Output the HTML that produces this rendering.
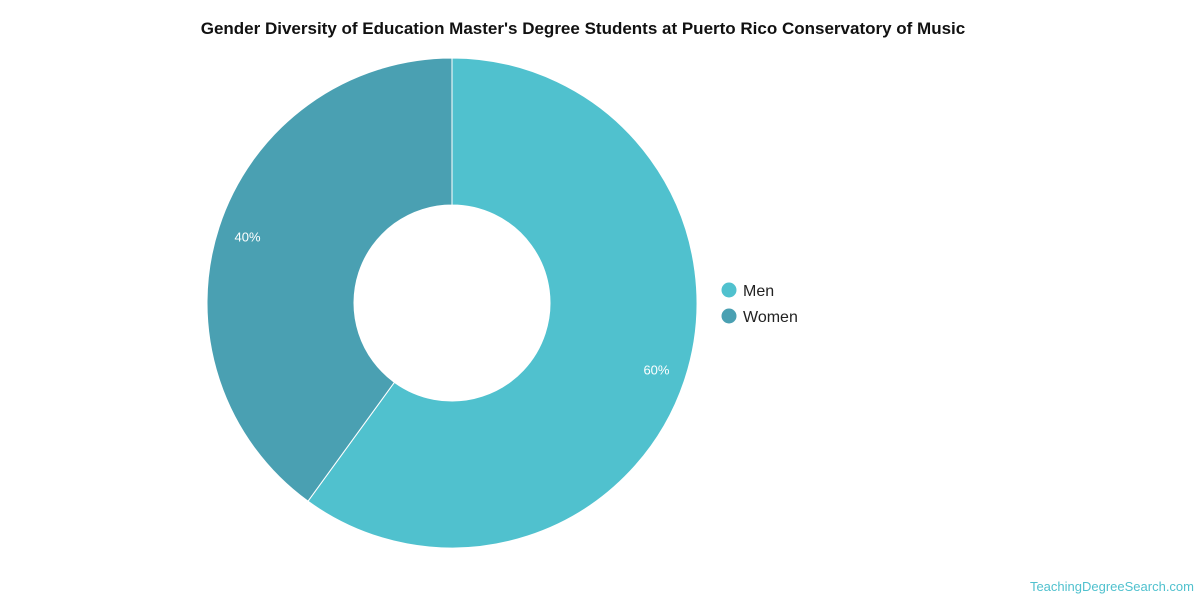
<!DOCTYPE html>
<html><head><meta charset="utf-8"><style>
body{margin:0;background:#fff;font-family:"Liberation Sans",sans-serif;}
</style></head><body>
<svg width="1200" height="600" xmlns="http://www.w3.org/2000/svg">
<text x="583" y="34" text-anchor="middle" font-size="17" font-weight="bold" fill="#111">Gender Diversity of Education Master's Degree Students at Puerto Rico Conservatory of Music</text>
<g id="pie"></g>
<g id="legend"></g>
<text x="1194" y="591" text-anchor="end" font-size="13" fill="#50C1CE">TeachingDegreeSearch.com</text>
</svg>
<script>
const categories=["Men","Women"];
const values=[60,40];
const colors=["#50C1CE","#4AA0B2"];
const labels=["60%","40%"];
const ns="http://www.w3.org/2000/svg";
const cx=452,cy=303,R=245,r=98,LR=215;
const pie=document.getElementById('pie'),leg=document.getElementById('legend');
const total=values.reduce((a,b)=>a+b,0);
let a0=0;
function pt(rad,a){return [cx+rad*Math.sin(a),cy-rad*Math.cos(a)];}
values.forEach((v,i)=>{
 const a1=a0+v/total*2*Math.PI;
 const large=(a1-a0)>Math.PI?1:0;
 const p1=pt(R,a0),p2=pt(R,a1),p3=pt(r,a1),p4=pt(r,a0);
 const p=document.createElementNS(ns,'path');
 p.setAttribute('d',`M${p1}A${R},${R} 0 ${large} 1 ${p2}L${p3}A${r},${r} 0 ${large} 0 ${p4}Z`);
 p.setAttribute('fill',colors[i]);p.setAttribute('stroke','#fff');p.setAttribute('stroke-width','1');
 
 
 pie.appendChild(p);
 const m=(a0+a1)/2,lp=pt(LR,m);
 const t=document.createElementNS(ns,'text');
 t.setAttribute('x',lp[0]);t.setAttribute('y',lp[1]+5);t.setAttribute('text-anchor','middle');
 t.setAttribute('font-size','13');t.setAttribute('fill','#fff');t.textContent=labels[i];
 
 
 pie.appendChild(t);
 const c=document.createElementNS(ns,'circle');
 c.setAttribute('cx',729);c.setAttribute('cy',290+i*26);c.setAttribute('r',7.5);c.setAttribute('fill',colors[i]);
 
 
 leg.appendChild(c);
 const lt=document.createElementNS(ns,'text');
 lt.setAttribute('x',743);lt.setAttribute('y',296+i*26);lt.setAttribute('font-size','16');lt.setAttribute('fill','#222');lt.textContent=categories[i];
 
 
 leg.appendChild(lt);
 a0=a1;
});
</script>
</body></html>
